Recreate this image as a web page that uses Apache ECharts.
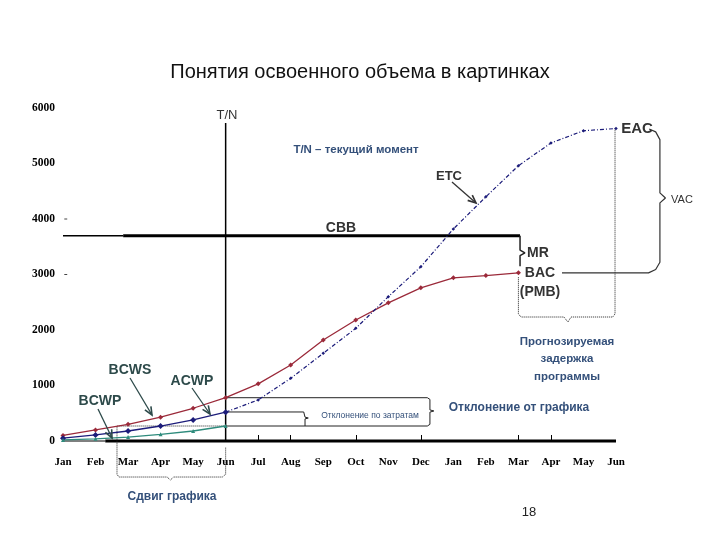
<!DOCTYPE html>
<html><head><meta charset="utf-8">
<script src="https://cdn.jsdelivr.net/npm/echarts@6/dist/echarts.min.js"></script>
<style>html,body{margin:0;padding:0;background:#fff}#c{width:720px;height:540px}</style>
</head><body><div id="c"></div>
<script>
// ---- data ----
const months = ['Jan','Feb','Mar','Apr','May','Jun','Jul','Aug','Sep','Oct','Nov','Dec','Jan','Feb','Mar','Apr','May','Jun'];
const bcws = [100,200,300,430,590,780,1030,1370,1820,2180,2490,2760,2940,2980,3030];
const acwp = [50,110,180,270,380,520];
const etcForecast = [null,null,null,null,null,520,740,1130,1580,2030,2600,3140,3820,4400,4960,5370,5590,5630];
const bcwp = [20,40,70,120,180,270];
const yTickValues = [0,1000,2000,3000,4000,5000,6000];
const cbbValue = 3700;
const tnIndex = 5;
const tickedMonths = [6,7,9,11,14,15];

const chart = echarts.init(document.getElementById('c'), null, {renderer:'canvas'});
const idx = a => a.map((v,i)=>[i,v]);

// plot geometry
const G = {left:63, top:108, bottom:99, step:(616-63)/17};
const EXT = 19; // value-axis extent (in month steps) for annotation grid

function seg(points, color, width, type){
  return {type:'line', xAxisIndex:1, yAxisIndex:1, data:points, symbol:'none', clip:false, silent:true, animation:false,
    lineStyle:{color:color, width:width, type:type||'solid'}, z:1};
}
const SANS = '"Liberation Sans", Arial, sans-serif';
function T(text, x, y, font, fill, align){
  return {type:'text', x:x, y:y, z:100, style:{text:text, font:font, fill:fill||'#333', align:align||'center', verticalAlign:'middle'}};
}
function arrow(x1,y1,x2,y2,color){
  const a = Math.atan2(y2-y1,x2-x1), L=8, W=3.5;
  const bx = x2 - L*Math.cos(a), by = y2 - L*Math.sin(a);
  const px = -Math.sin(a)*W, py = Math.cos(a)*W;
  return [
    {type:'line', z:100, shape:{x1:x1,y1:y1,x2:x2,y2:y2}, style:{stroke:color, lineWidth:1.3}},
    {type:'polyline', z:100, shape:{points:[[bx+px,by+py],[x2,y2],[bx-px,by-py]]}, style:{stroke:color, lineWidth:1.6, fill:null}}
  ];
}
const lab = '#2d4a4a';
const blu = '#34507a';
const nb = 'bold 14px ' + SANS;

const graphics = [
  T('T/N', 227, 115, '13px ' + SANS, '#333'),
  T('T/N – текущий момент', 356, 150, 'bold 11.5px ' + SANS, blu),
  T('ETC', 449, 176, 'bold 13px ' + SANS, '#333'),
  T('CBB', 341, 228, nb, '#333'),
  T('EAC', 637, 129, 'bold 15px ' + SANS, '#333'),
  T('VAC', 682, 200, '11px ' + SANS, '#333'),
  T('MR', 538, 253, nb, '#333'),
  T('BAC', 540, 273, nb, '#333'),
  T('(PMB)', 540, 292, nb, '#333'),
  T('Прогнозируемая', 567, 342, 'bold 11.5px ' + SANS, blu),
  T('задержка', 567, 359, 'bold 11.5px ' + SANS, blu),
  T('программы', 567, 377, 'bold 11.5px ' + SANS, blu),
  T('Отклонение от графика', 519, 408, 'bold 12px ' + SANS, blu),
  T('Отклонение по затратам', 370, 416, '8.5px ' + SANS, blu),
  T('Сдвиг графика', 172, 497, 'bold 12px ' + SANS, blu),
  T('18', 529, 512, '13px ' + SANS, '#222'),
  T('BCWS', 130, 370, nb, lab),
  T('ACWP', 192, 381, nb, lab),
  T('BCWP', 100, 401, nb, lab)
].concat(
  arrow(452,182,476,203,'#333'),
  arrow(130,378,152,415,lab),
  arrow(192,388,210,414,lab),
  arrow(98,409,112,438,lab)
);

const yFont = {margin:8, fontFamily:'"Liberation Serif", serif', fontWeight:'bold', fontSize:11.5, color:'#000', formatter:(v)=>String(v)};

const option = {
  animation:false,
  backgroundColor:'#fff',
  title:{text:'Понятия освоенного объема в картинках', left:'center', top:57,
    textStyle:{fontFamily:SANS, fontSize:20, fontWeight:'normal', color:'#111'}},
  grid:[
    {left:G.left, right:720-616, top:G.top, bottom:G.bottom},
    {left:G.left, width:G.step*EXT, top:G.top, bottom:G.bottom}
  ],
  xAxis:[
    {type:'category', gridIndex:0, data:months, boundaryGap:false, position:'bottom',
      axisLine:{show:false},
      axisTick:{show:true, inside:true, length:6, alignWithLabel:true,
        interval:(i)=>tickedMonths.indexOf(i)>=0, lineStyle:{color:'#000', width:1}},
      axisLabel:{interval:0, margin:16, fontFamily:'"Liberation Serif", serif', fontWeight:'bold', fontSize:11, color:'#000'},
      splitLine:{show:false}},
    {type:'value', gridIndex:1, min:0, max:EXT, show:false}
  ],
  yAxis:[
    {type:'value', gridIndex:0, min:yTickValues[0], max:yTickValues[yTickValues.length-1], interval:1000,
      axisLine:{show:false}, axisTick:{show:false}, splitLine:{show:false}, axisLabel:yFont},
    {type:'value', gridIndex:1, min:yTickValues[0], max:yTickValues[yTickValues.length-1], show:false}
  ],
  graphic:graphics,
  series:[
    // axis line
    seg([[0,0],[1.3,0]], '#000', 1),
    seg([[1.3,0],[17,0]], '#000', 3),
    // y dashes
    seg([[0.04,4000],[0.13,4000]], '#444', 1),
    seg([[0.04,3000],[0.13,3000]], '#444', 1),
    // T/N line
    seg([[tnIndex,0],[tnIndex,5730]], '#000', 1.5),
    // CBB
    seg([[0,cbbValue],[1.85,cbbValue]], '#000', 1.5),
    seg([[1.85,cbbValue],[14.05,cbbValue]], '#000', 3),
    seg([[14.05,cbbValue],[14.05,3440],[14.2,3390],[14.05,3340],[14.05,3150]], '#222', 1.5),
    // variance boxes
    seg([[tnIndex,780],[11.2,780],[11.28,750],[11.28,560],[11.4,541],[11.28,520],[11.28,300],[11.2,270],[tnIndex,270]], '#222', 1),
    seg([[tnIndex,523],[7.4,523],[7.44,500],[7.44,430],[7.54,414],[7.44,398],[7.44,270]], '#222', 1),
    // schedule shift dotted
    seg([[tnIndex,270],[1.66,270],[1.66,-600],[1.72,-649],[3.2,-649],[3.3,-703],[3.4,-649],[4.9,-649],[tnIndex,-600],[tnIndex,-120]], '#222', 1, 'dotted'),
    // forecast delay dotted
    seg([[14,2950],[14,2290],[14.08,2234],[15.4,2234],[15.52,2144],[15.62,2234],[16.9,2234],[16.97,2290],[16.97,5640]], '#222', 1, 'dotted'),
    // VAC brace
    seg([[15.34,3030],[18.0,3030],[18.22,3090],[18.35,3220],[18.35,4290],[18.52,4379],[18.35,4470],[18.35,5430],[18.22,5570],[18.02,5622]], '#333', 1.2),
    // data series
    {name:'BCWS', type:'line', xAxisIndex:1, yAxisIndex:1, data:idx(bcws), symbol:'diamond', symbolSize:5, z:3,
      lineStyle:{color:'#9b2a3a', width:1.3}, itemStyle:{color:'#9b2a3a'}},
    {name:'ETC', type:'line', xAxisIndex:1, yAxisIndex:1, data:idx(etcForecast), symbol:'diamond', symbolSize:3.5, z:3, connectNulls:false,
      lineStyle:{color:'#1c1c7a', width:1.2, type:[4,2,1,2]}, itemStyle:{color:'#1c1c7a'}},
    {name:'ACWP', type:'line', xAxisIndex:1, yAxisIndex:1, data:idx(acwp), symbol:'diamond', symbolSize:6, z:4,
      lineStyle:{color:'#1c1c7a', width:1.3}, itemStyle:{color:'#1c1c7a'}},
    {name:'BCWP', type:'line', xAxisIndex:1, yAxisIndex:1, data:idx(bcwp), symbol:'triangle', symbolSize:4, z:4,
      lineStyle:{color:'#2e8b7c', width:1.3}, itemStyle:{color:'#2e8b7c'}}
  ]
};
chart.setOption(option);
</script></body></html>
